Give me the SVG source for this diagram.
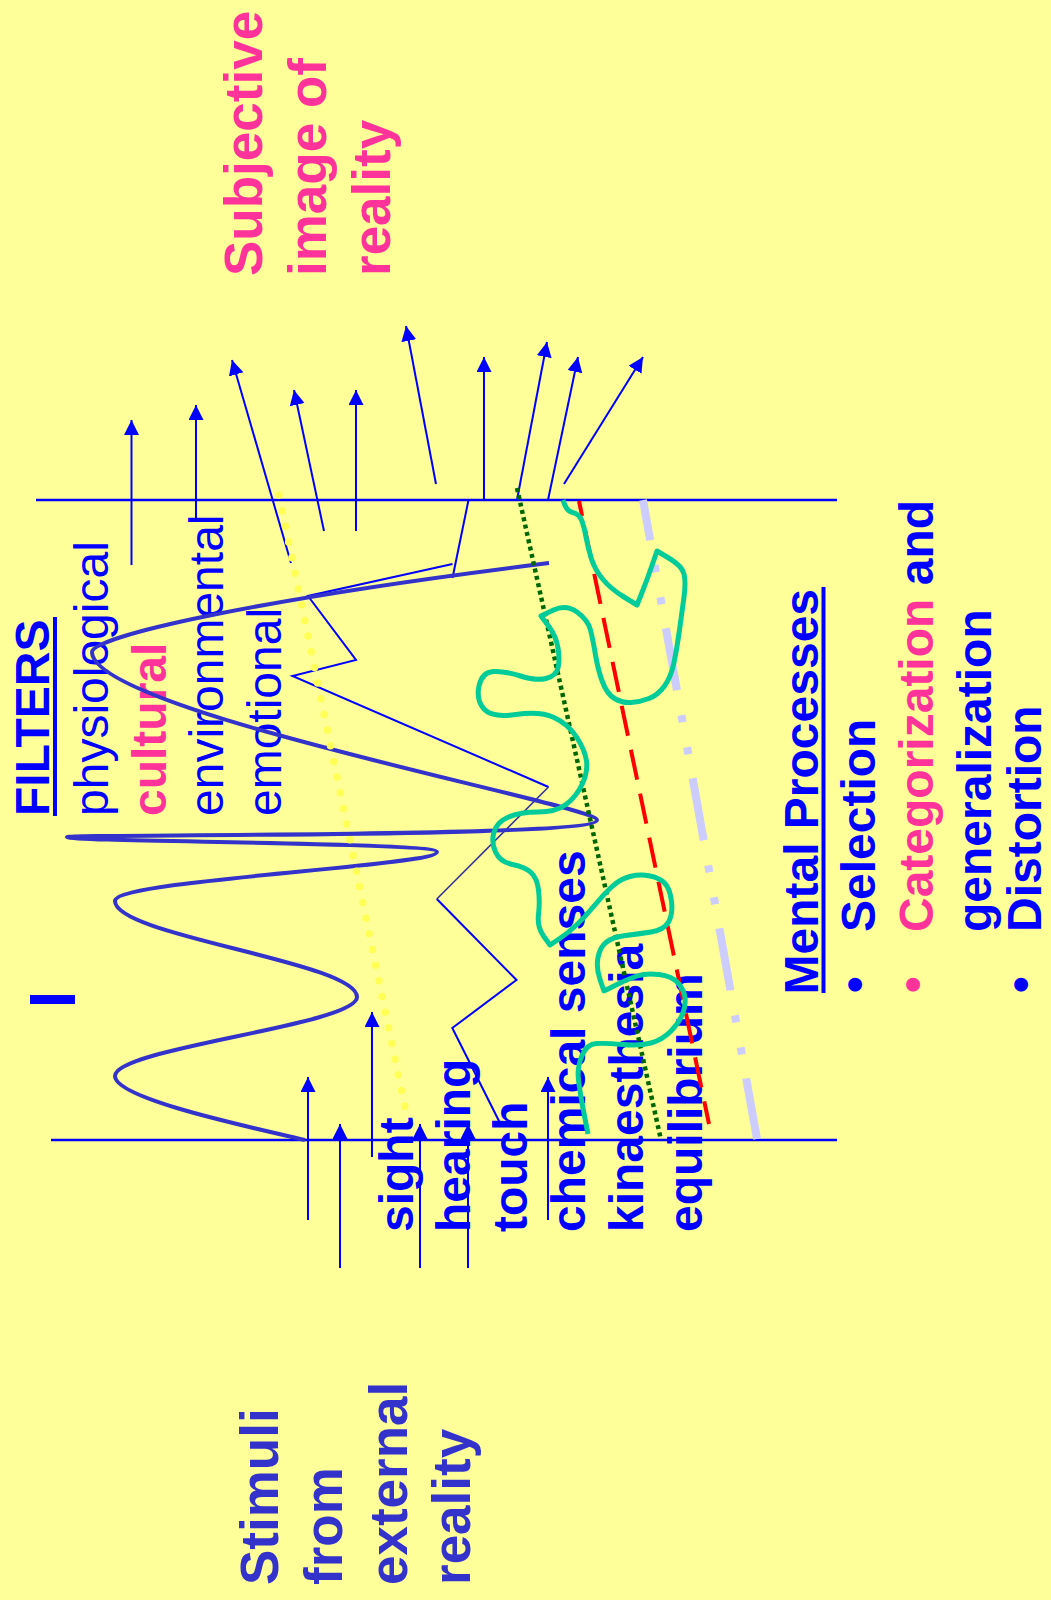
<svg xmlns="http://www.w3.org/2000/svg" width="1051" height="1600" viewBox="0 0 1051 1600">
<defs>
<marker id="ah" markerUnits="userSpaceOnUse" markerWidth="16" markerHeight="16" refX="15" refY="7.5" orient="auto"><path d="M0,0 L15,7.5 L0,15 z" fill="#0000FF"/></marker>
<style>
text { font-family: "Liberation Sans", Arial, sans-serif; }
.b48 { font-size:48px; font-weight:bold; fill:#0000FF; }
.r48 { font-size:48px; font-weight:normal; fill:#0000FF; }
.big { font-size:53px; font-weight:bold; }
.stim { fill:#3333CC; }
.pink { fill:#FF3399; }
.hl { stroke:#0000FF; stroke-width:2.5; }
.arr { stroke:#0000FF; stroke-width:2; fill:none; marker-end:url(#ah); }
.thin { stroke:#0000FF; stroke-width:2; fill:none; }
.ul { stroke:#0000FF; stroke-width:4; }
</style>
</defs>
<rect width="1051" height="1600" fill="#FFFF99"/>

<g id="subjective">
<text class="big pink" transform="translate(262,276) rotate(-90)">Subjective</text>
<text class="big pink" transform="translate(326,276) rotate(-90)">image of</text>
<text class="big pink" transform="translate(390,276) rotate(-90)">reality</text>
</g>

<g id="stimuli">
<text class="big stim" transform="translate(278,1585) rotate(-90)">Stimuli</text>
<text class="big stim" transform="translate(342,1585) rotate(-90)">from</text>
<text class="big stim" transform="translate(406.5,1585) rotate(-90)">external</text>
<text class="big stim" transform="translate(469.5,1585) rotate(-90)">reality</text>
</g>

<g id="filters">
<text class="b48" transform="translate(49,816) rotate(-90)">FILTERS</text>
<line class="ul" x1="55" y1="617" x2="55" y2="816"/>
<text class="r48" transform="translate(108,816) rotate(-90)">physiological</text>
<text class="b48 pink" transform="translate(165.5,816) rotate(-90)">cultural</text>
<text class="r48" transform="translate(223,816) rotate(-90)">environmental</text>
<text class="r48" transform="translate(280.5,816) rotate(-90)">emotional</text>
</g>

<g id="marker-bar">
<rect x="30" y="995" width="45" height="9" fill="#0000FF"/>
</g>

<g id="senses">
<text class="b48" transform="translate(413.3,1232) rotate(-90)">sight</text>
<text class="b48" transform="translate(470,1232) rotate(-90)">hearing</text>
<text class="b48" transform="translate(527.3,1232) rotate(-90)">touch</text>
<text class="b48" transform="translate(585,1232) rotate(-90)">chemical senses</text>
<text class="b48" transform="translate(643.3,1232) rotate(-90)">kinaesthesia</text>
<text class="b48" transform="translate(701.7,1232) rotate(-90)">equilibrium</text>
</g>

<g id="mental-processes">
<text class="b48" transform="translate(818,994.5) rotate(-90)">Mental Processes</text>
<line class="ul" x1="823.5" y1="587" x2="823.5" y2="993" stroke-width="4.5"/>
<text class="b48" transform="translate(871,993) rotate(-90)">•</text>
<text class="b48" transform="translate(875,932) rotate(-90)">Selection</text>
<text class="b48 pink" transform="translate(928.7,993) rotate(-90)">•</text>
<text class="b48" transform="translate(932.7,932) rotate(-90)"><tspan class="pink">Categorization</tspan> and</text>
<text class="b48" transform="translate(990.5,932) rotate(-90)">generalization</text>
<text class="b48" transform="translate(1037,993) rotate(-90)">•</text>
<text class="b48" transform="translate(1041,932) rotate(-90)">Distortion</text>
</g>

<g id="connectors">
<line class="hl" x1="36" y1="500" x2="837" y2="500"/>
<line class="hl" x1="51" y1="1140" x2="837" y2="1140"/>

<line class="arr" x1="131.5" y1="565" x2="131.5" y2="420"/>
<line class="arr" x1="196" y1="520" x2="196" y2="405"/>
<line class="arr" x1="291" y1="563" x2="232" y2="360"/>
<line class="arr" x1="324" y1="531" x2="294" y2="390"/>
<line class="arr" x1="356" y1="531" x2="356" y2="390"/>
<line class="arr" x1="436" y1="484" x2="406" y2="326"/>
<line class="arr" x1="484" y1="500" x2="484" y2="357"/>
<line class="arr" x1="517" y1="500" x2="547" y2="342"/>
<line class="arr" x1="548" y1="500" x2="578" y2="357"/>
<line class="arr" x1="564" y1="484" x2="643" y2="357"/>

<line class="arr" x1="308" y1="1220" x2="308" y2="1077"/>
<line class="arr" x1="340" y1="1268" x2="340" y2="1124"/>
<line class="arr" x1="372" y1="1157" x2="372" y2="1012"/>
<line class="arr" x1="420" y1="1268" x2="420" y2="1124"/>
<line class="arr" x1="468" y1="1268" x2="468" y2="1124"/>
<line class="arr" x1="548" y1="1220" x2="548" y2="1077"/>

<line class="thin" x1="468.5" y1="500" x2="452.5" y2="578"/>
<polyline class="thin" points="452.5,564 308,596 356,660 292.5,676 548.5,787"/>
<polyline fill="none" stroke="#333399" stroke-width="1.6" points="548.5,787 436.8,899"/>
<polyline class="thin" points="436.8,899 516.5,980 452.3,1028 500,1123"/>

<path id="wave" fill="none" stroke="#3333CC" stroke-width="4" d="M305,1140 C240,1125 115,1098 115,1076 C115,1048 357,1025 357,997 C357,962 115,936 115,901 C115,880 437,866 437,852 C437,842 67,842 67,837 C67,834 597,838 597,820 C597,805 92,712 92,652 C92,637 250,600 549,563"/>

<line x1="279" y1="495" x2="405" y2="1108" stroke="#FFFF55" stroke-width="7.5" stroke-linecap="round" stroke-dasharray="0 16"/>
<line x1="517" y1="488" x2="661" y2="1140" stroke="#006600" stroke-width="4.5" stroke-dasharray="4 3.5"/>
<line x1="579" y1="501" x2="709" y2="1124" stroke="#FF0000" stroke-width="4" stroke-dasharray="30.6 14.3" stroke-dashoffset="15.3"/>
<line x1="643" y1="500" x2="757" y2="1139" stroke="#CCCCFF" stroke-width="8" stroke-dasharray="63 25.4 7.1 25.4 7.1 24.4" stroke-dashoffset="22.1"/>

<path id="teal" fill="none" stroke="#00CC99" stroke-width="5" stroke-linejoin="round" d="M563,500 Q566,511 572.5,512.5 Q579,514 581.5,520 Q584,526 586,537 Q588,548 591.5,559 Q595,570 603,579.5 Q611,589 624,597 L637,605 L642,592.5 Q647,580 652,565.5 L657,551 L669.5,558.5 Q682,566 684,574 Q686,582 684,597 Q682,612 679.5,630 Q677,648 674,662.5 Q671,677 664.5,686 Q658,695 649,698.5 Q640,702 631,702.5 Q622,703 614.5,698.5 Q607,694 602.5,682 Q598,670 595.5,655 Q593,640 590.5,630 Q588,620 577,612 Q566,604 553.5,610 L541,616 L548.5,626 Q556,636 558,648 Q560,660 558,668 Q556,676 546,678.5 Q536,681 520.5,676 Q505,671 493.5,671.5 Q482,672 479,686 Q476,700 484,709 Q492,718 516,714.5 Q540,711 554,717.5 Q568,724 576.5,737 Q585,750 586.5,761 Q588,772 582,784.5 Q576,797 566,804.5 Q556,812 538,812 Q520,812 508.5,817 Q497,822 494,832 Q491,842 495.5,852 Q500,862 512.5,864.5 Q525,867 531,872.5 Q537,878 538.5,890 Q540,902 538.5,914.5 Q537,927 543.5,936 L550,945 L559,939 Q568,933 576.5,925 Q585,917 594,906 Q603,895 611.5,887 Q620,879 630,876.5 Q640,874 650,876 Q660,878 665,883.5 Q670,889 671.5,901.5 Q673,914 668.5,922 Q664,930 651,932 Q638,934 625.5,935.5 Q613,937 606.5,942 Q600,947 598,957.5 Q596,968 600,979.5 L604,991 L616,985 Q628,979 637,976 Q646,973 659,974.5 Q672,976 678,983 Q684,990 685,997.5 Q686,1005 682.5,1014 Q679,1023 670.5,1031.5 Q662,1040 651,1043 Q640,1046 623,1044.5 Q606,1043 596.5,1043.5 Q587,1044 582,1055.5 Q577,1067 578.5,1080 Q580,1093 584,1113.5 L588,1134"/>
</g>
</svg>
